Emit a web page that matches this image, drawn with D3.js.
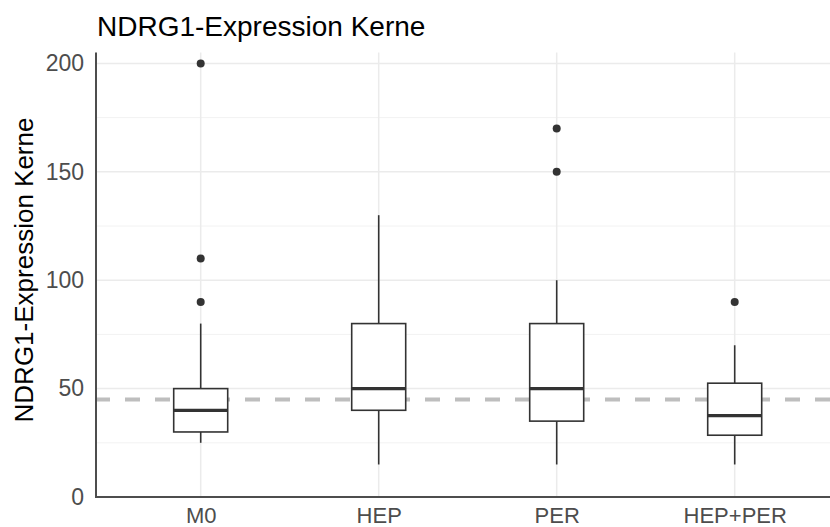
<!DOCTYPE html>
<html>
<head>
<meta charset="utf-8">
<script src="https://cdn.jsdelivr.net/npm/d3@7"></script>
<style>
  html, body { margin: 0; padding: 0; background: #fff; }
  svg { display: block; font-family: "Liberation Sans", Arial, Helvetica, sans-serif; }
</style>
</head>
<body>
<svg id="chart" width="830" height="527"></svg>
<script>
// Group labels and box-plot statistics per group
const categories = ["M0", "HEP", "PER", "HEP+PER"];
const lowerWhisker = [25, 15, 15, 15];
const lowerHinge   = [30, 40, 35, 28.5];
const medians      = [40, 50, 50, 37.5];
const upperHinge   = [50, 80, 80, 52.5];
const upperWhisker = [80, 130, 100, 70];
const outliers     = [[90, 110, 200], [], [150, 170], [90]];
const referenceLevel = 45;
const yTicks = [0, 50, 100, 150, 200];
const yMinorTicks = [25, 75, 125, 175];
const titleText = "NDRG1-Expression Kerne";
const yLabel = "NDRG1-Expression Kerne";

const boxes = categories.map((c, i) => ({
  cat: c,
  lw: lowerWhisker[i], lh: lowerHinge[i], med: medians[i],
  uh: upperHinge[i], uw: upperWhisker[i], out: outliers[i]
}));

const svg = d3.select("#chart");
const panel = { left: 96, right: 830, top: 52.6, bottom: 497 };

const x = d3.scalePoint().domain(categories).range([200.7, 734.7]);
const y = d3.scaleLinear().domain([0, 205]).range([panel.bottom, panel.top]);
const boxW = 54;

// Grid: minor lines, then major lines
const grid = svg.append("g");
grid.selectAll("line.minor").data(yMinorTicks).join("line")
  .attr("x1", panel.left).attr("x2", panel.right)
  .attr("y1", d => y(d)).attr("y2", d => y(d))
  .attr("stroke", "#F2F2F2").attr("stroke-width", 1);
grid.selectAll("line.major").data(yTicks).join("line")
  .attr("x1", panel.left).attr("x2", panel.right)
  .attr("y1", d => y(d)).attr("y2", d => y(d))
  .attr("stroke", "#EBEBEB").attr("stroke-width", 1.5);
grid.selectAll("line.vert").data(categories).join("line")
  .attr("x1", d => x(d)).attr("x2", d => x(d))
  .attr("y1", panel.top).attr("y2", panel.bottom)
  .attr("stroke", "#EBEBEB").attr("stroke-width", 1.5);

// Dashed reference line behind the boxes
svg.append("line")
  .attr("x1", panel.left - 1).attr("x2", panel.right)
  .attr("y1", y(referenceLevel)).attr("y2", y(referenceLevel))
  .attr("stroke", "#BEBEBE").attr("stroke-width", 4)
  .attr("stroke-dasharray", "15,15");

// Box plots
const g = svg.append("g").selectAll("g").data(boxes).join("g");
g.append("line")
  .attr("x1", d => x(d.cat)).attr("x2", d => x(d.cat))
  .attr("y1", d => y(d.uw)).attr("y2", d => y(d.uh))
  .attr("stroke", "#333").attr("stroke-width", 1.6);
g.append("line")
  .attr("x1", d => x(d.cat)).attr("x2", d => x(d.cat))
  .attr("y1", d => y(d.lh)).attr("y2", d => y(d.lw))
  .attr("stroke", "#333").attr("stroke-width", 1.6);
g.append("rect")
  .attr("x", d => x(d.cat) - boxW / 2).attr("width", boxW)
  .attr("y", d => y(d.uh)).attr("height", d => y(d.lh) - y(d.uh))
  .attr("fill", "#fff").attr("stroke", "#333").attr("stroke-width", 1.6);
g.append("line")
  .attr("x1", d => x(d.cat) - boxW / 2).attr("x2", d => x(d.cat) + boxW / 2)
  .attr("y1", d => y(d.med)).attr("y2", d => y(d.med))
  .attr("stroke", "#333").attr("stroke-width", 3.2);
g.selectAll("circle").data(d => d.out.map(v => ({ cat: d.cat, v }))).join("circle")
  .attr("cx", d => x(d.cat)).attr("cy", d => y(d.v)).attr("r", 4)
  .attr("fill", "#333");

// Axes
const xAxis = svg.append("g").attr("transform", `translate(0,${panel.bottom})`)
  .call(d3.axisBottom(x).tickSize(0).tickPadding(10));
xAxis.select(".domain").remove();
xAxis.selectAll("text").attr("font-size", 22).attr("fill", "#4D4D4D")
  .attr("font-family", "Liberation Sans, Arial, sans-serif");

const yAxis = svg.append("g").attr("transform", `translate(${panel.left},0)`)
  .call(d3.axisLeft(y).tickValues(yTicks).tickSize(0).tickPadding(12));
yAxis.select(".domain").remove();
yAxis.selectAll("text").attr("font-size", 23).attr("fill", "#4D4D4D")
  .attr("font-family", "Liberation Sans, Arial, sans-serif");

// Axis lines
svg.append("line").attr("x1", panel.left).attr("x2", panel.left)
  .attr("y1", panel.top).attr("y2", panel.bottom + 1)
  .attr("stroke", "#4D4D4D").attr("stroke-width", 2);
svg.append("line").attr("x1", panel.left - 1).attr("x2", panel.right)
  .attr("y1", panel.bottom).attr("y2", panel.bottom)
  .attr("stroke", "#4D4D4D").attr("stroke-width", 2);

// Titles
svg.append("text").attr("x", 97).attr("y", 36)
  .attr("font-size", 28).attr("fill", "#000").text(titleText);
svg.append("text")
  .attr("transform", "translate(33,270) rotate(-90)")
  .attr("text-anchor", "middle").attr("font-size", 26).attr("fill", "#000")
  .text(yLabel);
</script>
</body>
</html>
